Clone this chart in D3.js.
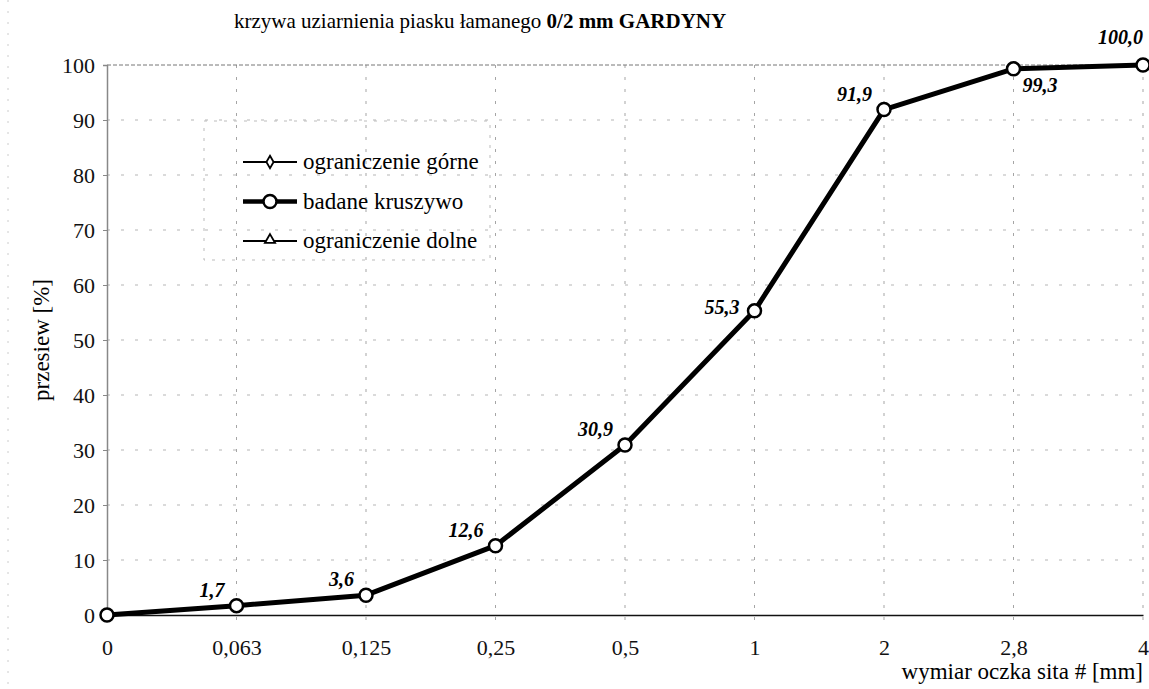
<!DOCTYPE html>
<html>
<head>
<meta charset="utf-8">
<script src="https://cdn.jsdelivr.net/npm/d3@7"></script>
<style>
  body { margin: 0; background: #fff; }
  svg text { font-family: "Liberation Serif", "Times New Roman", "DejaVu Serif", serif; }
</style>
</head>
<body>
<div id="chart"></div>
<script>
// sieve sizes (category axis) and measured passing %
const sieves = ["0", "0,063", "0,125", "0,25", "0,5", "1", "2", "2,8", "4"];
const passing = [0, 1.7, 3.6, 12.6, 30.9, 55.3, 91.9, 99.3, 100.0];
const yTicks = [0, 10, 20, 30, 40, 50, 60, 70, 80, 90, 100];
const legendItems = ["ograniczenie górne", "badane kruszywo", "ograniczenie dolne"];
// where each value label sits relative to its point
const labelSide = ["none", "al", "al", "al", "al", "l", "al", "br", "top"];

const W = 1149, H = 689;
const margin = { top: 65, right: 6, bottom: 74, left: 107 };
const serif = "Liberation Serif, Times New Roman, serif";

const svg = d3.select("#chart").append("svg")
    .attr("width", W).attr("height", H)
    .attr("font-family", serif);

const x = d3.scalePoint().domain(sieves).range([margin.left, W - margin.right]);
const y = d3.scaleLinear().domain([0, 100]).range([H - margin.bottom, margin.top]);

// scanner edge artefact
svg.append("line")
    .attr("x1", 8).attr("x2", 8).attr("y1", 0).attr("y2", H)
    .attr("stroke", "#ccc").attr("stroke-dasharray", "2,9");

// title
const title = svg.append("text").attr("x", 234).attr("y", 28).attr("font-size", 21);
title.append("tspan").text("krzywa uziarnienia piasku łamanego ");
title.append("tspan").attr("font-weight", "bold").text("0/2 mm GARDYNY");

// grid
svg.append("g").selectAll("line")
    .data(yTicks.slice(1, -1))
    .join("line")
    .attr("x1", margin.left).attr("x2", W - margin.right)
    .attr("y1", d => y(d)).attr("y2", d => y(d))
    .attr("stroke", "#b5b5b5").attr("stroke-width", 1).attr("stroke-dasharray", "3,11");

svg.append("g").selectAll("line")
    .data(sieves.slice(1))
    .join("line")
    .attr("x1", d => x(d)).attr("x2", d => x(d))
    .attr("y1", margin.top).attr("y2", y(0) + 6)
    .attr("stroke", "#a5a5a5").attr("stroke-width", 1).attr("stroke-dasharray", "3,9");

// top frame (dotted)
svg.append("line")
    .attr("x1", margin.left).attr("x2", W - margin.right)
    .attr("y1", y(100)).attr("y2", y(100))
    .attr("stroke", "#777").attr("stroke-dasharray", "4,2");

// axes
const yAxis = d3.axisLeft(y).tickValues(yTicks).tickSize(4).tickPadding(8);
const gy = svg.append("g").attr("transform", `translate(${margin.left},0)`).call(yAxis)
    .attr("font-family", serif).attr("font-size", 22);
gy.select(".domain").attr("stroke", "#888").attr("stroke-width", 1.5);
gy.selectAll(".tick line").attr("stroke", "#888");
gy.selectAll("text").attr("fill", "#111");

const xAxis = d3.axisBottom(x).tickSize(0).tickPadding(24);
const gx = svg.append("g").attr("transform", `translate(0,${y(0)})`).call(xAxis)
    .attr("font-family", serif).attr("font-size", 22);
gx.select(".domain").attr("stroke", "#111").attr("stroke-width", 1.5);
gx.selectAll("text").attr("fill", "#111");

// axis titles
svg.append("text")
    .attr("transform", `translate(49,${(y(0) + y(100)) / 2}) rotate(-90)`)
    .attr("text-anchor", "middle").attr("font-size", 23)
    .text("przesiew [%]");
svg.append("text")
    .attr("x", 1143).attr("y", 679).attr("text-anchor", "end").attr("font-size", 23)
    .text("wymiar oczka sita # [mm]");

// curve
const line = d3.line().x((d, i) => x(sieves[i])).y(d => y(d));
svg.append("path").datum(passing)
    .attr("d", line).attr("fill", "none")
    .attr("stroke", "#000").attr("stroke-width", 5).attr("stroke-linejoin", "round");

svg.append("g").selectAll("circle")
    .data(passing)
    .join("circle")
    .attr("cx", (d, i) => x(sieves[i]))
    .attr("cy", d => y(d))
    .attr("r", 6.5)
    .attr("fill", "#fff").attr("stroke", "#000").attr("stroke-width", 2.5);

// value labels
const fmt = v => d3.format(".1f")(v).replace(".", ",");
svg.append("g").selectAll("text")
    .data(passing.map((v, i) => ({ v, i, side: labelSide[i] })).filter(d => d.side !== "none"))
    .join("text")
    .attr("font-size", 20).attr("font-weight", "bold").attr("font-style", "italic")
    .attr("text-anchor", d => d.side === "br" ? "start" : "end")
    .attr("x", d => {
        const px = x(sieves[d.i]);
        if (d.side === "br") return px + 9;
        if (d.side === "top") return px;
        if (d.side === "l") return px - 15;
        return px - 12;
    })
    .attr("y", d => {
        const py = y(d.v);
        if (d.side === "br") return py + 23;
        if (d.side === "l") return py + 3;
        if (d.side === "top") return py - 21;
        return py - 9;
    })
    .text(d => fmt(d.v));

// legend (faint frame left over from the scan)
svg.append("rect")
    .attr("x", 204).attr("y", 121).attr("width", 286).attr("height", 139)
    .attr("fill", "none").attr("stroke", "#bbb").attr("stroke-dasharray", "3,7");

const lg = svg.append("g").attr("transform", "translate(243,162)");
const rows = lg.selectAll("g").data(legendItems).join("g")
    .attr("transform", (d, i) => `translate(0,${i * 39.5})`);
rows.append("line")
    .attr("x1", 0).attr("x2", 54).attr("y1", 0).attr("y2", 0)
    .attr("stroke", "#000").attr("stroke-width", (d, i) => i === 1 ? 4.5 : 2.2);
rows.append("text")
    .attr("x", 60).attr("y", 7).attr("font-size", 23).text(d => d);
rows.filter((d, i) => i === 0).append("path")
    .attr("d", d3.symbol(d3.symbolDiamond, 45)())
    .attr("transform", "translate(27,0)")
    .attr("fill", "#fff").attr("stroke", "#000").attr("stroke-width", 1.8);
rows.filter((d, i) => i === 1).append("circle")
    .attr("cx", 27).attr("r", 6.5)
    .attr("fill", "#fff").attr("stroke", "#000").attr("stroke-width", 2.5);
rows.filter((d, i) => i === 2).append("path")
    .attr("d", d3.symbol(d3.symbolTriangle, 45)())
    .attr("transform", "translate(27,-1)")
    .attr("fill", "#fff").attr("stroke", "#000").attr("stroke-width", 1.8);
</script>
</body>
</html>
